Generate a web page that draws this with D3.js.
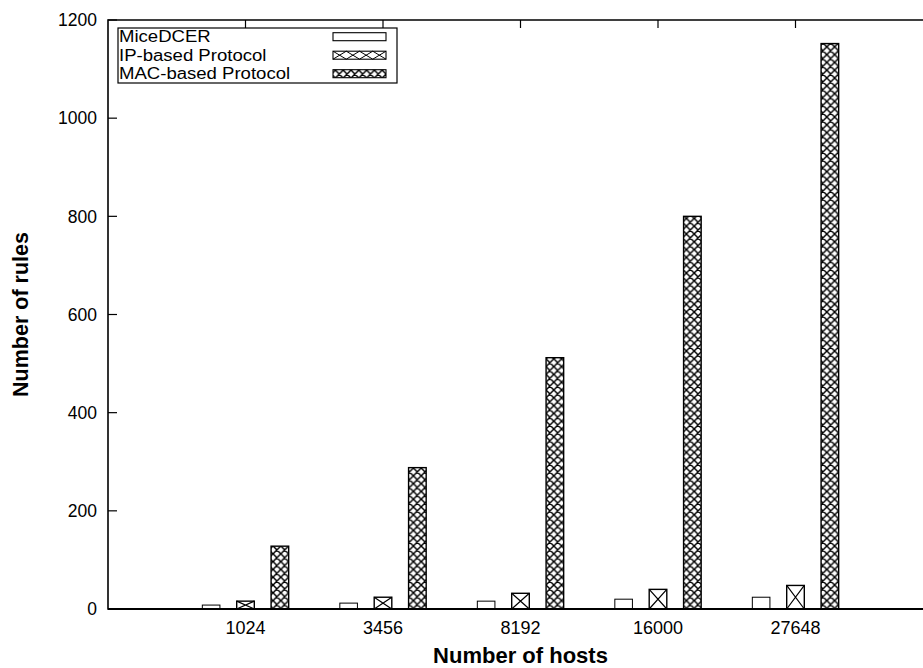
<!DOCTYPE html>
<html>
<head>
<meta charset="utf-8">
<script src="https://cdn.jsdelivr.net/npm/d3@7"></script>
<style>
  html, body { margin: 0; padding: 0; background: #fff; }
  svg { display: block; }
  text { font-family: "Liberation Sans", Arial, Helvetica, sans-serif; fill: #000; }
</style>
</head>
<body>
<svg id="chart" width="923" height="668"></svg>
<script>
// ---- data ----
const hosts = ["1024", "3456", "8192", "16000", "27648"];
const miceDCER = [8, 12, 16, 20, 24];
const ipBased = [16, 24, 32, 40, 48];
const macBased = [128, 288, 512, 800, 1152];
const yTicks = [0, 200, 400, 600, 800, 1000, 1200];
const seriesNames = ["MiceDCER", "IP-based Protocol", "MAC-based Protocol"];

// ---- layout ----
const plot = { left: 108, right: 933, top: 20, bottom: 609 };
const svg = d3.select("#chart");

const x = d3.scaleLinear().domain([0, hosts.length + 1]).range([plot.left, plot.right]);
const y = d3.scaleLinear().domain([0, 1200]).range([plot.bottom, plot.top]);

const offsets = [-0.25, 0, 0.25];
const boxW = 0.128;

// fine crosshatch pattern
const P = 7.8;
const defs = svg.append("defs");
const pat = defs.append("pattern")
  .attr("id", "fine").attr("patternUnits", "userSpaceOnUse")
  .attr("width", P).attr("height", P);
pat.append("rect").attr("width", P).attr("height", P).attr("fill", "#fff");
pat.append("path")
  .attr("d", `M0,0L${P},${P}M${P},0L0,${P}M-1,${P-1}L1,${P+1}M${P-1},-1L${P+1},1M-1,1L1,-1M${P-1},${P+1}L${P+1},${P-1}`)
  .attr("stroke", "#000").attr("stroke-width", 1.45).attr("fill", "none");

// y ticks (inward, left)
const yAxisG = svg.append("g");
yTicks.forEach(t => {
  yAxisG.append("line")
    .attr("x1", plot.left).attr("x2", plot.left + 9)
    .attr("y1", y(t)).attr("y2", y(t))
    .attr("stroke", "#000").attr("stroke-width", 1.2);
  yAxisG.append("text")
    .attr("x", plot.left - 11).attr("y", y(t)).attr("dy", "0.36em")
    .attr("text-anchor", "end").style("font-size", "17.5px")
    .text(t);
});

// x ticks
const xAxisG = svg.append("g");
hosts.forEach((h, i) => {
  const cx = x(i + 1);
  xAxisG.append("line").attr("x1", cx).attr("x2", cx)
    .attr("y1", plot.top).attr("y2", plot.top + 8)
    .attr("stroke", "#000").attr("stroke-width", 1.2);
  xAxisG.append("line").attr("x1", cx).attr("x2", cx)
    .attr("y1", plot.bottom).attr("y2", plot.bottom - 8)
    .attr("stroke", "#000").attr("stroke-width", 1.2);
  xAxisG.append("text")
    .attr("x", cx).attr("y", 634)
    .attr("text-anchor", "middle").style("font-size", "18px")
    .text(h);
});

// bars
const series = [miceDCER, ipBased, macBased];
const barsG = svg.append("g");
series.forEach((vals, s) => {
  vals.forEach((v, i) => {
    const c = i + 1 + offsets[s];
    const x0 = x(c - boxW / 2), x1 = x(c + boxW / 2);
    const y0 = y(v), y1 = y(0);
    barsG.append("rect")
      .attr("x", x0).attr("y", y0)
      .attr("width", x1 - x0).attr("height", y1 - y0)
      .attr("fill", s === 2 ? "url(#fine)" : "#fff")
      .attr("stroke", "#000").attr("stroke-width", s === 0 ? 1 : 1.4);
    if (s === 1) {
      barsG.append("path")
        .attr("d", `M${x0},${y0}L${x1},${y1}M${x1},${y0}L${x0},${y1}`)
        .attr("stroke", "#000").attr("stroke-width", 1.2).attr("fill", "none");
    }
  });
});

// border: left, top, bottom (right edge is outside the picture)
svg.append("path")
  .attr("d", `M${plot.right},${plot.top}L${plot.left},${plot.top}L${plot.left},${plot.bottom}L${plot.right},${plot.bottom}`)
  .attr("stroke", "#000").attr("stroke-width", 1.6).attr("fill", "none");
svg.append("line")
  .attr("x1", plot.left).attr("x2", plot.right)
  .attr("y1", plot.bottom).attr("y2", plot.bottom)
  .attr("stroke", "#000").attr("stroke-width", 2.2);

// axis titles
svg.append("text")
  .attr("x", (plot.left + plot.right) / 2).attr("y", 663)
  .attr("text-anchor", "middle")
  .style("font-size", "22px").style("font-weight", "bold")
  .text("Number of hosts");
svg.append("text")
  .attr("transform", `translate(28,${(plot.top + plot.bottom) / 2}) rotate(-90)`)
  .attr("text-anchor", "middle")
  .style("font-size", "21.5px").style("font-weight", "bold")
  .text("Number of rules");

// legend
const lg = svg.append("g");
lg.append("rect").attr("x", 118).attr("y", 28).attr("width", 279).attr("height", 55)
  .attr("fill", "#fff").attr("stroke", "#000").attr("stroke-width", 1.2);
const rowY = [36.7, 55.2, 73.7];
const keyX0 = 333, keyX1 = 386, keyH = 8;
seriesNames.forEach((name, s) => {
  const cy = rowY[s];
  lg.append("text")
    .attr("transform", `translate(119,${cy}) scale(1.16,1)`)
    .attr("dy", "0.36em")
    .style("font-size", "16px").text(name);
  lg.append("rect")
    .attr("x", keyX0).attr("y", cy - keyH / 2)
    .attr("width", keyX1 - keyX0).attr("height", keyH)
    .attr("fill", s === 2 ? "url(#fine)" : "#fff")
    .attr("stroke", "#000").attr("stroke-width", 1.1);
  if (s === 1) {
    const n = 4, w = (keyX1 - keyX0) / n;
    let d = "";
    for (let k = 0; k < n; k++) {
      const a = keyX0 + k * w, b = a + w;
      d += `M${a},${cy - keyH / 2}L${b},${cy + keyH / 2}M${b},${cy - keyH / 2}L${a},${cy + keyH / 2}`;
    }
    lg.append("path").attr("d", d).attr("stroke", "#000").attr("stroke-width", 1).attr("fill", "none");
  }
});
</script>
</body>
</html>
